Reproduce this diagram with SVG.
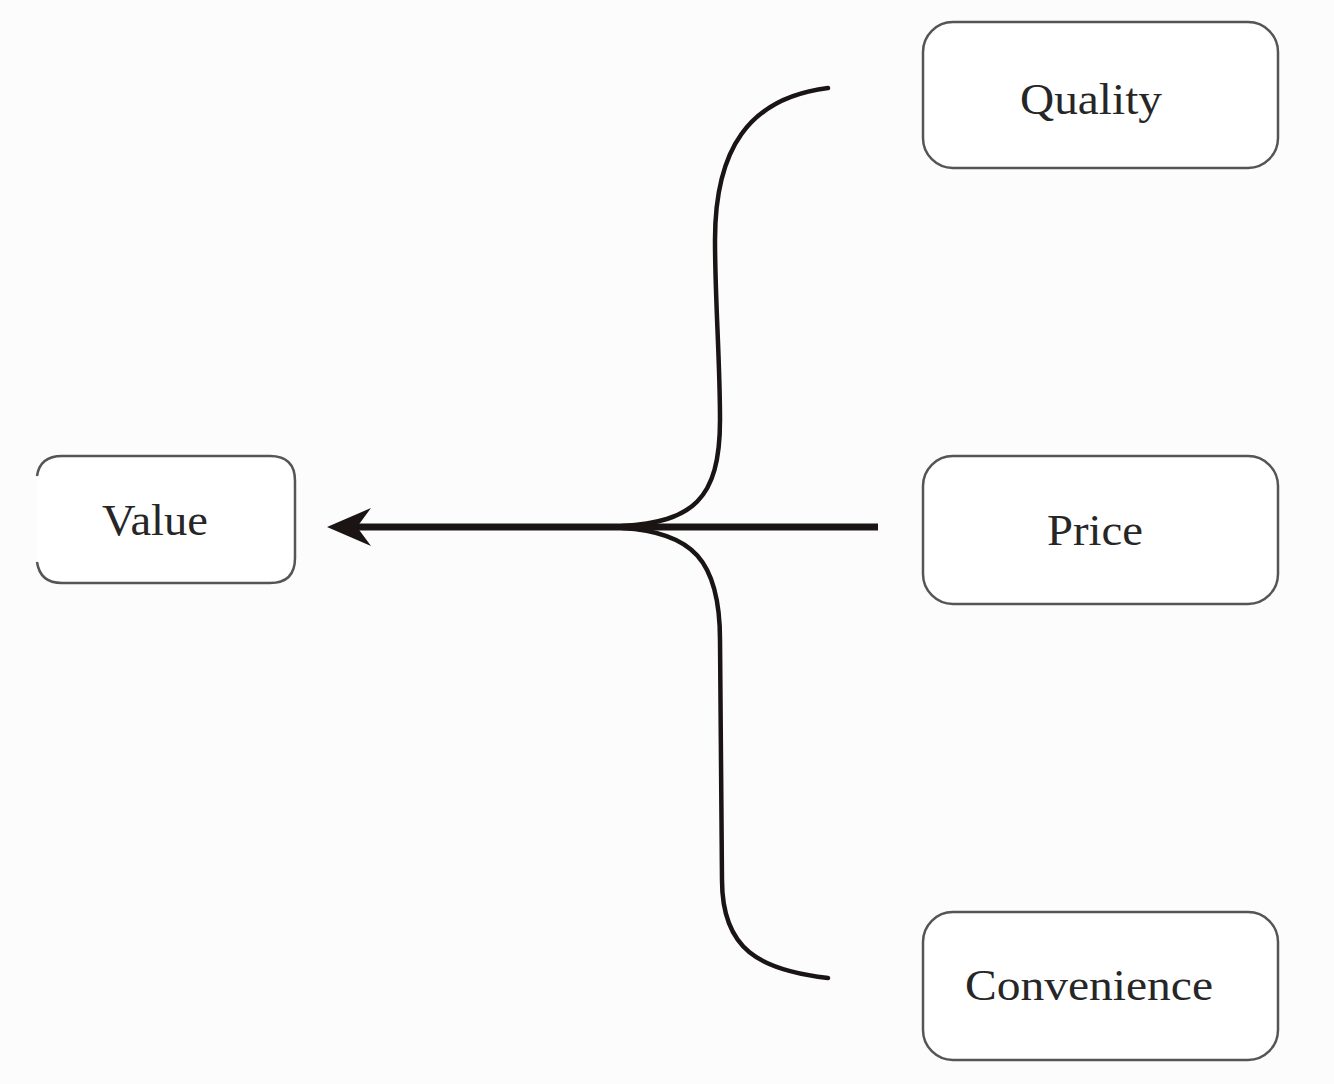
<svg xmlns="http://www.w3.org/2000/svg" width="1334" height="1084" viewBox="0 0 1334 1084">
<style>
.box{fill:#ffffff;stroke:#555;stroke-width:2.5}
.lbl{font-family:"Liberation Serif","Times New Roman",serif;font-size:44px;fill:#262626;text-anchor:middle}
.brace{fill:none;stroke:#1a1414;stroke-width:4.5;stroke-linecap:round}
.shaft{fill:none;stroke:#1a1414;stroke-width:7}
</style>
<defs>
<marker id="ah" markerUnits="userSpaceOnUse" markerWidth="50" markerHeight="50" refX="14" refY="25" orient="auto" viewBox="0 0 50 50">
<path d="M44 25 L0 6 L14 25 L0 44 Z" fill="#1a1414"/>
</marker>
</defs>
<rect width="1334" height="1084" fill="#fdfcfd"/>
<g id="node-value">
<path class="box" d="M37 476 Q40 456 62 456 L270 456 Q295 456 295 481 L295 558 Q295 583 270 583 L62 583 Q40 583 37 562"/>
<text class="lbl" x="155" y="535" textLength="106" lengthAdjust="spacingAndGlyphs">Value</text>
</g>
<g id="node-quality">
<rect class="box" x="923" y="22" width="355" height="146" rx="30"/>
<text class="lbl" x="1091" y="114" textLength="142" lengthAdjust="spacingAndGlyphs">Quality</text>
</g>
<g id="node-price">
<rect class="box" x="923" y="456" width="355" height="148" rx="30"/>
<text class="lbl" x="1095" y="545" textLength="96" lengthAdjust="spacingAndGlyphs">Price</text>
</g>
<g id="node-convenience">
<rect class="box" x="923" y="912" width="355" height="148" rx="30"/>
<text class="lbl" x="1089" y="1000" textLength="248" lengthAdjust="spacingAndGlyphs">Convenience</text>
</g>
<g id="connectors">
<path class="brace" d="M828 88 C748 98 715 150 715 240 C715 300 720 360 720 420 C720 500 692 522 622 526"/>
<path class="brace" d="M622 528 C692 532 720 560 720 640 C720 720 722 800 722 880 C722 950 760 970 828 978"/>
<path class="shaft" d="M878 527 L357 527" marker-end="url(#ah)"/>
</g>
</svg>
